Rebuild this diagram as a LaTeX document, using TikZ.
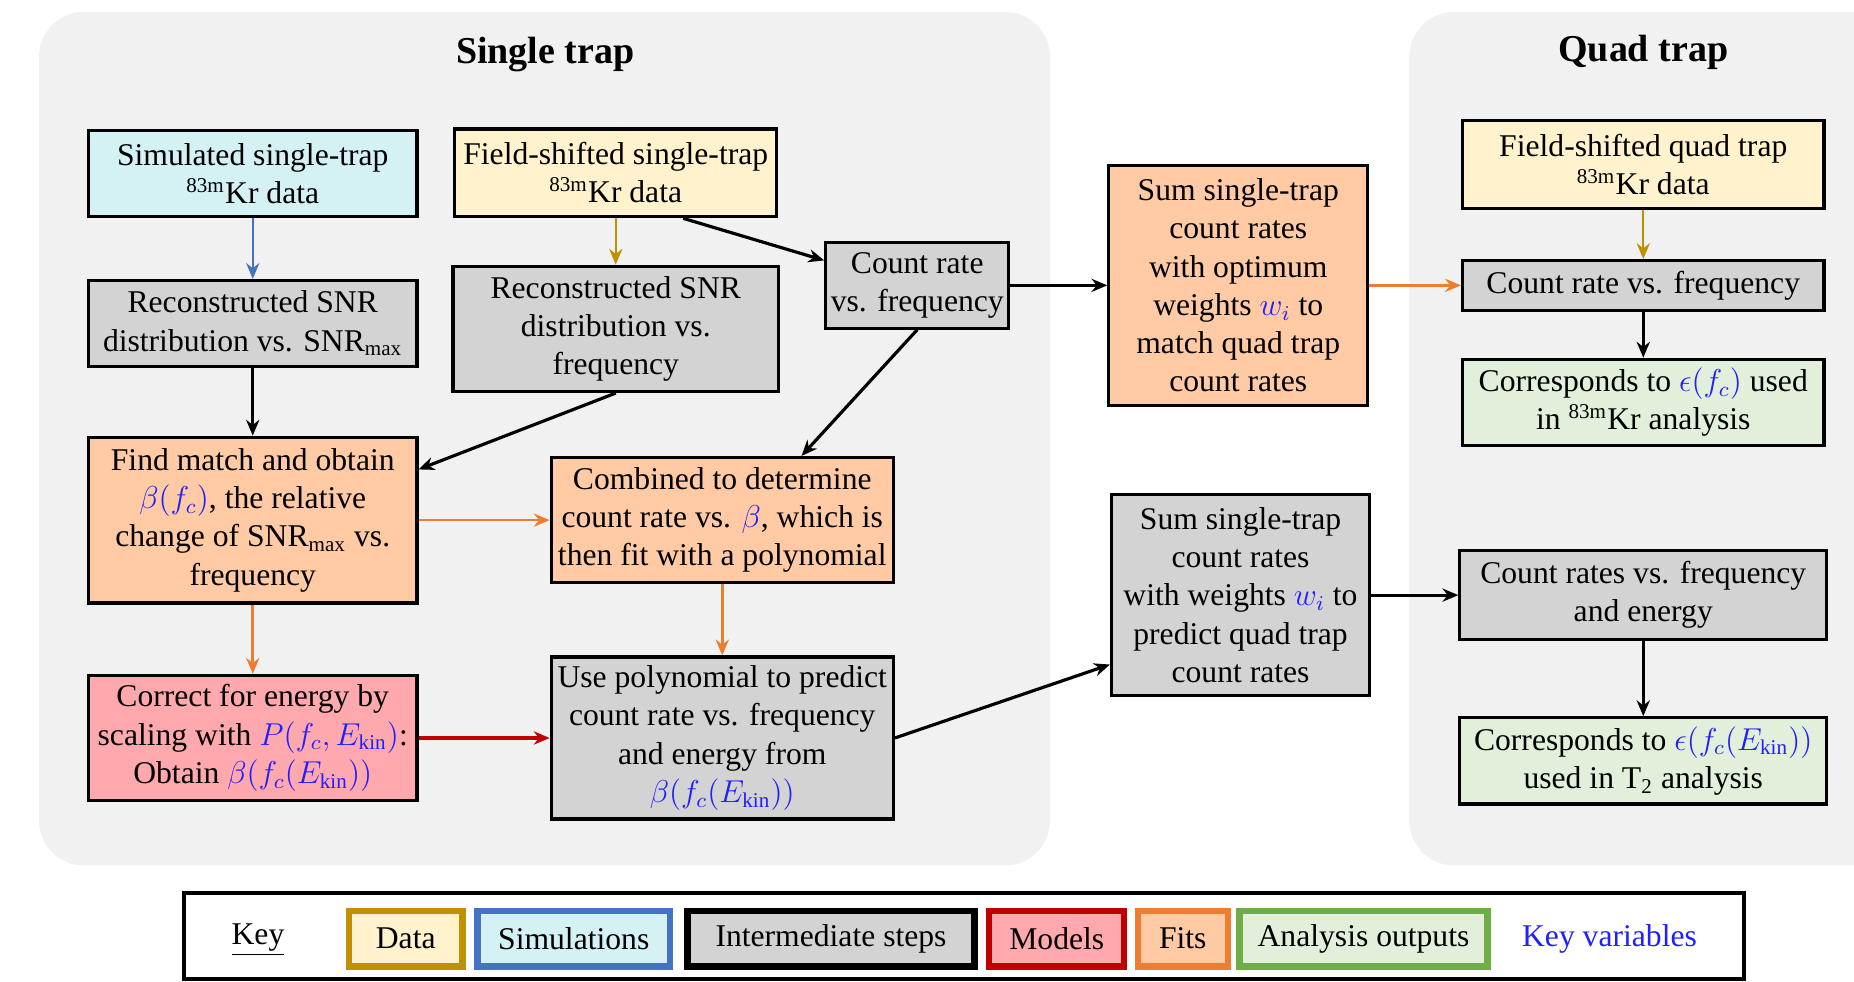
\documentclass[tikz,border=0pt,12pt]{standalone}
\usepackage{fontspec}
\setmainfont{Liberation Serif}
\usetikzlibrary{arrows.meta}

\definecolor{panelgray}{HTML}{F1F1F1}
\definecolor{datafill}{HTML}{FFF2CC}
\definecolor{dataline}{HTML}{BF9000}
\definecolor{simfill}{HTML}{D4F1F4}
\definecolor{simline}{HTML}{4472C4}
\definecolor{stepfill}{HTML}{D3D3D3}
\definecolor{modelfill}{HTML}{FFA8AD}
\definecolor{modelline}{HTML}{C00000}
\definecolor{fitfill}{HTML}{FFCAA4}
\definecolor{fitline}{HTML}{ED7D31}
\definecolor{outfill}{HTML}{E2EFDA}
\definecolor{outgreen}{HTML}{70AD47}
\definecolor{keyblue}{HTML}{1F1FFF}

\newcommand{\kv}[1]{\textcolor{keyblue}{#1}}
\newcommand{\mKr}{\textsuperscript{83m}Kr}

\begin{document}
\begin{tikzpicture}[
        box/.style={draw, line width=1.2pt, align=center, inner sep=1pt},
        databox/.style={box, fill=datafill},
        simbox/.style={box, fill=simfill},
        stepbox/.style={box, fill=stepfill},
        modelbox/.style={box, fill=modelfill},
        fitbox/.style={box, fill=fitfill},
        outbox/.style={box, fill=outfill},
        flow/.style={-{Stealth[length=6pt,width=5pt]}, line width=1.2pt},
        dataflow/.style={flow, line width=0.8pt, dataline},
        simflow/.style={flow, line width=0.8pt, simline},
        fitflow/.style={flow, line width=1pt, fitline},
        modelflow/.style={flow, line width=1.4pt, modelline},
        panel/.style={fill=panelgray, rounded corners=0.6cm},
        keybox/.style={line width=2.4pt, minimum height=0.74cm, inner sep=1pt}
    ]
        \useasboundingbox (0,0) rectangle (24.72,13.085);

        % the two trap panels
        \fill[panel] (0.52,1.545) rectangle (14.0,12.927);
        \fill[panel] (18.79,1.545) rectangle (25.5,12.927);
        \node[font=\large\bfseries] (single) at (7.27,12.36) {Single trap};
        \node[font=\large\bfseries] (quad) at (21.91,12.38) {Quad trap};

        % single trap
        \node[simbox, minimum width=4.38cm, minimum height=1.14cm] (sim) at (3.37,10.77)
            {Simulated single-trap\\ \mKr{} data};
        \node[databox, minimum width=4.29cm, minimum height=1.17cm] (data1) at (8.21,10.78)
            {Field-shifted single-trap\\ \mKr{} data};
        \node[stepbox, minimum width=4.38cm, minimum height=1.15cm] (snr1) at (3.37,8.77)
            {Reconstructed SNR\\ distribution vs. SNR\textsubscript{max}};
        \node[stepbox, minimum width=4.34cm, minimum height=1.67cm] (snr2) at (8.21,8.70)
            {Reconstructed SNR\\ distribution vs.\\ frequency};
        \node[stepbox, minimum width=2.44cm, minimum height=1.14cm] (cr1) at (12.23,9.28)
            {Count rate\\ vs. frequency};
        \node[fitbox, minimum width=4.38cm, minimum height=2.21cm] (match) at (3.37,6.15)
            {Find match and obtain\\ \kv{$\beta(f_c)$}, the relative\\ change of SNR\textsubscript{max} vs.\\ frequency};
        \node[fitbox, minimum width=4.56cm, minimum height=1.67cm] (comb) at (9.63,6.15)
            {Combined to determine\\ count rate vs. \kv{$\beta$}, which is\\ then fit with a polynomial};
        \node[modelbox, minimum width=4.38cm, minimum height=1.67cm] (corr) at (3.37,3.245)
            {Correct for energy by\\ scaling with \kv{$P(f_c,E_{\mathrm{kin}})$}:\\ Obtain \kv{$\beta(f_c(E_{\mathrm{kin}}))$}};
        \node[stepbox, minimum width=4.56cm, minimum height=2.16cm] (poly) at (9.63,3.245)
            {Use polynomial to predict\\ count rate vs. frequency\\ and energy from\\ \kv{$\beta(f_c(E_{\mathrm{kin}}))$}};

        % summing step between the panels
        \node[fitbox, minimum width=3.45cm, minimum height=3.2cm] (sumopt) at (16.51,9.28)
            {Sum single-trap\\ count rates\\ with optimum\\ weights \kv{$w_i$} to\\ match quad trap\\ count rates};
        \node[stepbox, minimum width=3.44cm, minimum height=2.68cm] (sumpred) at (16.54,5.15)
            {Sum single-trap\\ count rates\\ with weights \kv{$w_i$} to\\ predict quad trap\\ count rates};

        % quad trap
        \node[databox, minimum width=4.82cm, minimum height=1.17cm] (data2) at (21.91,10.89)
            {Field-shifted quad trap\\ \mKr{} data};
        \node[stepbox, minimum width=4.82cm, minimum height=0.66cm] (cr2) at (21.91,9.28)
            {Count rate vs. frequency};
        \node[outbox, minimum width=4.82cm, minimum height=1.15cm] (out1) at (21.91,7.72)
            {Corresponds to \kv{$\epsilon(f_c)$} used\\ in \mKr{} analysis};
        \node[stepbox, minimum width=4.89cm, minimum height=1.18cm] (cr3) at (21.91,5.15)
            {Count rates vs. frequency\\ and energy};
        \node[outbox, minimum width=4.89cm, minimum height=1.15cm] (out2) at (21.91,2.94)
            {Corresponds to \kv{$\epsilon(f_c(E_{\mathrm{kin}}))$}\\ used in T\textsubscript{2} analysis};

        % connectors
        \draw[simflow] (sim) -- (snr1);
        \draw[dataflow] (data1) -- (snr2);
        \draw[flow] (data1.-34) -- (cr1.165);
        \draw[flow] (snr1) -- (match);
        \draw[flow] (snr2.south) -- (match.17);
        \draw[flow] (cr1.south) -- (comb.39);
        \draw[flow] (cr1) -- (sumopt);
        \draw[fitflow] (sumopt) -- (cr2);
        \draw[dataflow] (data2) -- (cr2);
        \draw[flow] (cr2) -- (out1);
        \draw[fitflow] (match) -- (comb);
        \draw[fitflow] (match) -- (corr);
        \draw[fitflow] (comb) -- (poly);
        \draw[modelflow] (corr) -- (poly);
        \draw[flow] (poly.east) -- (sumpred.208);
        \draw[flow] (sumpred) -- (cr3);
        \draw[flow] (cr3) -- (out2);

        % key
        \draw[line width=1.5pt] (2.45,0.03) rectangle (23.25,1.18);
        \node (key) at (3.44,0.55) {\underline{Key}};
        \node[keybox, draw=dataline, fill=datafill, minimum width=1.51cm] (kdata) at (5.41,0.57) {Data};
        \node[keybox, draw=simline, fill=simfill, minimum width=2.57cm] (ksim) at (7.65,0.57) {Simulations};
        \node[keybox, draw=black, fill=stepfill, minimum width=3.83cm] (kstep) at (11.08,0.57) {Intermediate steps};
        \node[keybox, draw=modelline, fill=modelfill, minimum width=1.8cm] (kmodel) at (14.09,0.57) {Models};
        \node[keybox, draw=fitline, fill=fitfill, minimum width=1.2cm] (kfit) at (15.77,0.57) {Fits};
        \node[keybox, draw=outgreen, fill=outfill, minimum width=3.31cm] (kout) at (18.18,0.57) {Analysis outputs};
        \node[text=keyblue] (kvar) at (21.46,0.57) {Key variables};
    \end{tikzpicture}
\end{document}
